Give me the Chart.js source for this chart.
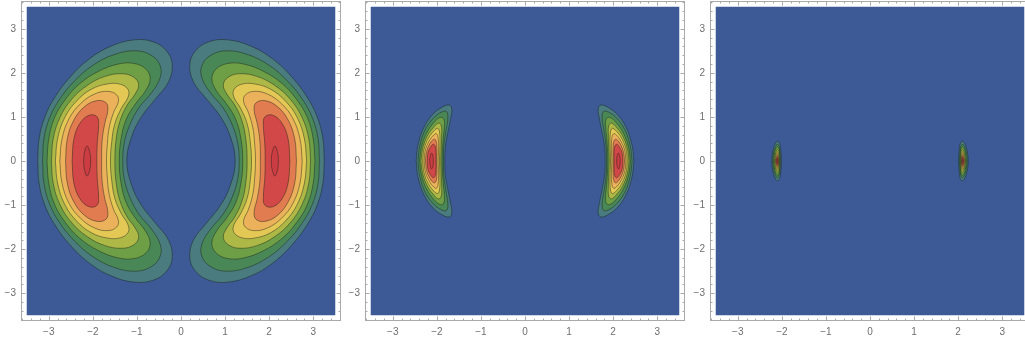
<!DOCTYPE html>
<html><head><meta charset="utf-8">
<script src="https://cdn.jsdelivr.net/npm/chart.js@4.4.1/dist/chart.umd.min.js"></script>
<style>
html,body{margin:0;padding:0;background:#fff;overflow:hidden;width:1025px;height:342px}
.p{position:absolute;top:0;width:344px;height:342px}
</style></head><body>
<div class="p" style="left:0px"><canvas id="c0" width="344" height="342"></canvas></div>
<div class="p" style="left:344px"><canvas id="c1" width="344" height="342"></canvas></div>
<div class="p" style="left:689px"><canvas id="c2" width="344" height="342"></canvas></div>
<script>
// ---- data ----
const axisRange = [-3.63, 3.63];
const plotDomain = [-3.5, 3.5];
const tickValues = [-3, -2, -1, 0, 1, 2, 3];
const tickLabels = ['−3', '−2', '−1', '0', '1', '2', '3'];
const backgroundColor = '#3d5a96';
const levelColors = ['#4a7b7e', '#4a8756', '#6e9f46', '#adb847', '#e4c855', '#ebb15b', '#e17b50', '#d24848', '#cb3d43'];

// contour paths of the right-hand crescent, upper half (outer edge at y=0 -> over the top -> inner edge at y=0)
const contoursA = [
  [[3.25,0],[3.22,0.5],[3.09,1.0],[2.86,1.45],[2.52,1.9],[2.1,2.3],[1.6,2.6],[1.05,2.75],[0.62,2.7],[0.33,2.5],[0.2,2.2],[0.28,1.8],[0.57,1.42],[0.9,1.0],[1.12,0.55],[1.23,0]],
  [[3.14,0],[3.11,0.5],[2.98,0.98],[2.74,1.42],[2.41,1.82],[2.0,2.17],[1.5,2.42],[1.02,2.5],[0.68,2.4],[0.48,2.18],[0.47,1.9],[0.66,1.56],[0.96,1.2],[1.17,0.8],[1.29,0.4],[1.32,0]],
  [[3.04,0],[3.0,0.5],[2.87,0.98],[2.62,1.4],[2.3,1.75],[1.88,2.03],[1.42,2.2],[1.05,2.21],[0.79,2.08],[0.7,1.86],[0.8,1.6],[1.03,1.3],[1.24,0.95],[1.36,0.5],[1.4,0]],
  [[2.94,0],[2.9,0.5],[2.75,0.98],[2.48,1.4],[2.12,1.72],[1.72,1.92],[1.33,1.98],[1.07,1.9],[0.96,1.73],[1.04,1.52],[1.22,1.27],[1.38,0.92],[1.47,0.5],[1.5,0]],
  [[2.85,0],[2.8,0.5],[2.64,0.98],[2.37,1.36],[2.03,1.63],[1.66,1.75],[1.37,1.74],[1.2,1.62],[1.2,1.45],[1.35,1.2],[1.5,0.85],[1.57,0.45],[1.6,0]],
  [[2.75,0],[2.7,0.5],[2.54,0.96],[2.28,1.3],[1.96,1.52],[1.66,1.58],[1.46,1.5],[1.42,1.35],[1.53,1.1],[1.63,0.75],[1.67,0.4],[1.69,0]],
  [[2.62,0],[2.58,0.5],[2.43,0.93],[2.18,1.24],[1.9,1.37],[1.7,1.32],[1.66,1.15],[1.73,0.85],[1.79,0.45],[1.8,0]],
  [[2.47,0],[2.43,0.5],[2.29,0.86],[2.08,1.04],[1.9,1.0],[1.87,0.8],[1.9,0.4],[1.91,0]],
  [[2.21,0],[2.19,0.2],[2.13,0.34],[2.07,0.2],[2.05,0]]
];
const contoursB = [
  [[2.47,0],[2.43,0.35],[2.3,0.75],[2.1,1.05],[1.88,1.22],[1.72,1.27],[1.66,1.18],[1.69,0.95],[1.76,0.6],[1.81,0.3],[1.82,0]],
  [[2.43,0],[2.39,0.33],[2.27,0.7],[2.08,0.97],[1.89,1.11],[1.78,1.12],[1.75,0.98],[1.79,0.7],[1.84,0.35],[1.85,0]],
  [[2.39,0],[2.35,0.31],[2.23,0.64],[2.06,0.88],[1.92,0.99],[1.84,0.95],[1.83,0.78],[1.86,0.45],[1.88,0]],
  [[2.36,0],[2.32,0.29],[2.21,0.58],[2.06,0.78],[1.96,0.86],[1.9,0.8],[1.89,0.6],[1.9,0.3],[1.91,0]],
  [[2.32,0],[2.29,0.27],[2.19,0.52],[2.06,0.69],[1.98,0.74],[1.94,0.66],[1.93,0.4],[1.94,0]],
  [[2.29,0],[2.26,0.25],[2.17,0.46],[2.07,0.59],[2.01,0.62],[1.97,0.52],[1.96,0.26],[1.97,0]],
  [[2.26,0],[2.23,0.22],[2.16,0.39],[2.08,0.49],[2.03,0.48],[2.0,0.35],[2.0,0]],
  [[2.22,0],[2.2,0.19],[2.14,0.32],[2.08,0.38],[2.04,0.34],[2.02,0.2],[2.02,0]],
  [[2.16,0],[2.15,0.1],[2.12,0.18],[2.09,0.12],[2.08,0]]
];
const contoursC = [
  [[2.23,0],[2.21,0.2],[2.16,0.37],[2.1,0.45],[2.05,0.4],[2.02,0.2],[2.01,0]],
  [[2.21,0],[2.19,0.18],[2.14,0.33],[2.1,0.38],[2.06,0.33],[2.04,0.18],[2.03,0]],
  [[2.19,0],[2.17,0.16],[2.13,0.29],[2.09,0.32],[2.06,0.27],[2.05,0.14],[2.05,0]],
  [[2.17,0],[2.15,0.14],[2.11,0.25],[2.08,0.26],[2.06,0.14],[2.06,0]],
  [[2.16,0],[2.14,0.12],[2.1,0.21],[2.07,0.12],[2.07,0]],
  [[2.15,0],[2.13,0.1],[2.1,0.17],[2.08,0.1],[2.08,0]],
  [[2.14,0],[2.12,0.08],[2.1,0.13],[2.08,0.07],[2.08,0]],
  [[2.13,0],[2.12,0.06],[2.1,0.09],[2.09,0.05],[2.09,0]],
  [[2.12,0],[2.11,0.03],[2.1,0.04],[2.09,0]]
];

// ---- build ----
function closedPath(q, side) {
  const pts = q.map(p => ({x: side * p[0], y: p[1]}));
  for (let i = q.length - 2; i >= 0; i--) pts.push({x: side * q[i][0], y: -q[i][1]});
  return pts;
}
function buildDatasets(contours) {
  const [a, b] = plotDomain;
  const ds = [{
    data: [{x:a,y:a},{x:b,y:a},{x:b,y:b},{x:a,y:b},{x:a,y:a}],
    showLine: true, fill: 'shape', backgroundColor: backgroundColor,
    borderWidth: 0, borderColor: 'rgba(0,0,0,0)', tension: 0, pointRadius: 0, order: 100
  }];
  contours.forEach((q, k) => {
    [1, -1].forEach(side => {
      ds.push({
        data: closedPath(q, side), showLine: true, fill: 'shape',
        backgroundColor: levelColors[k], borderColor: 'rgba(20,30,20,0.55)', borderWidth: 0.8,
        tension: 0.4, pointRadius: 0, order: 50 - k
      });
    });
  });
  return ds;
}
const framePlugin = {
  id: 'mframe',
  afterDatasetsDraw(chart) {
    const {ctx, chartArea: a, scales: {x, y}} = chart;
    ctx.save();
    ctx.strokeStyle = '#a9a9a9';
    ctx.lineWidth = 1;
    ctx.strokeRect(Math.round(a.left) + 0.5, Math.round(a.top) + 0.5, Math.round(a.width) - 1, Math.round(a.height) - 1);
    ctx.beginPath();
    for (let i = -18; i <= 18; i++) {
      const v = i / 5;
      const len = i % 5 === 0 ? 4.5 : 2.5;
      const px = Math.round(x.getPixelForValue(v)) + 0.5;
      ctx.moveTo(px, a.bottom); ctx.lineTo(px, a.bottom - len);
      ctx.moveTo(px, a.top); ctx.lineTo(px, a.top + len);
      const py = Math.round(y.getPixelForValue(v)) + 0.5;
      ctx.moveTo(a.left, py); ctx.lineTo(a.left + len, py);
      ctx.moveTo(a.right, py); ctx.lineTo(a.right - len, py);
    }
    ctx.stroke();
    ctx.restore();
  }
};
function axis(pos, fit) {
  return {
    type: 'linear', position: pos, min: axisRange[0], max: axisRange[1],
    grid: {display: false, drawTicks: false}, border: {display: false},
    afterBuildTicks: s => { s.ticks = tickValues.map(v => ({value: v})); },
    afterFit: fit,
    ticks: {
      callback: v => tickLabels[tickValues.indexOf(v)],
      color: '#6e6e6e', font: {size: 10, family: 'Liberation Sans, Arial, sans-serif'},
      padding: 5, maxRotation: 0, autoSkip: false
    }
  };
}
[contoursA, contoursB, contoursC].forEach((c, i) => {
  new Chart(document.getElementById('c' + i), {
    type: 'scatter',
    data: {datasets: buildDatasets(c)},
    options: {
      responsive: false, animation: false, devicePixelRatio: 1, events: [],
      layout: {padding: {top: 1, right: 3, left: 0, bottom: 0}},
      plugins: {legend: {display: false}, tooltip: {enabled: false}},
      scales: {
        x: axis('bottom', s => { s.height = 21; s.paddingLeft = 0; s.paddingRight = 0; }),
        y: axis('left', s => { s.width = 21; s.paddingTop = 0; s.paddingBottom = 0; })
      }
    },
    plugins: [framePlugin]
  });
});
</script>
</body></html>
